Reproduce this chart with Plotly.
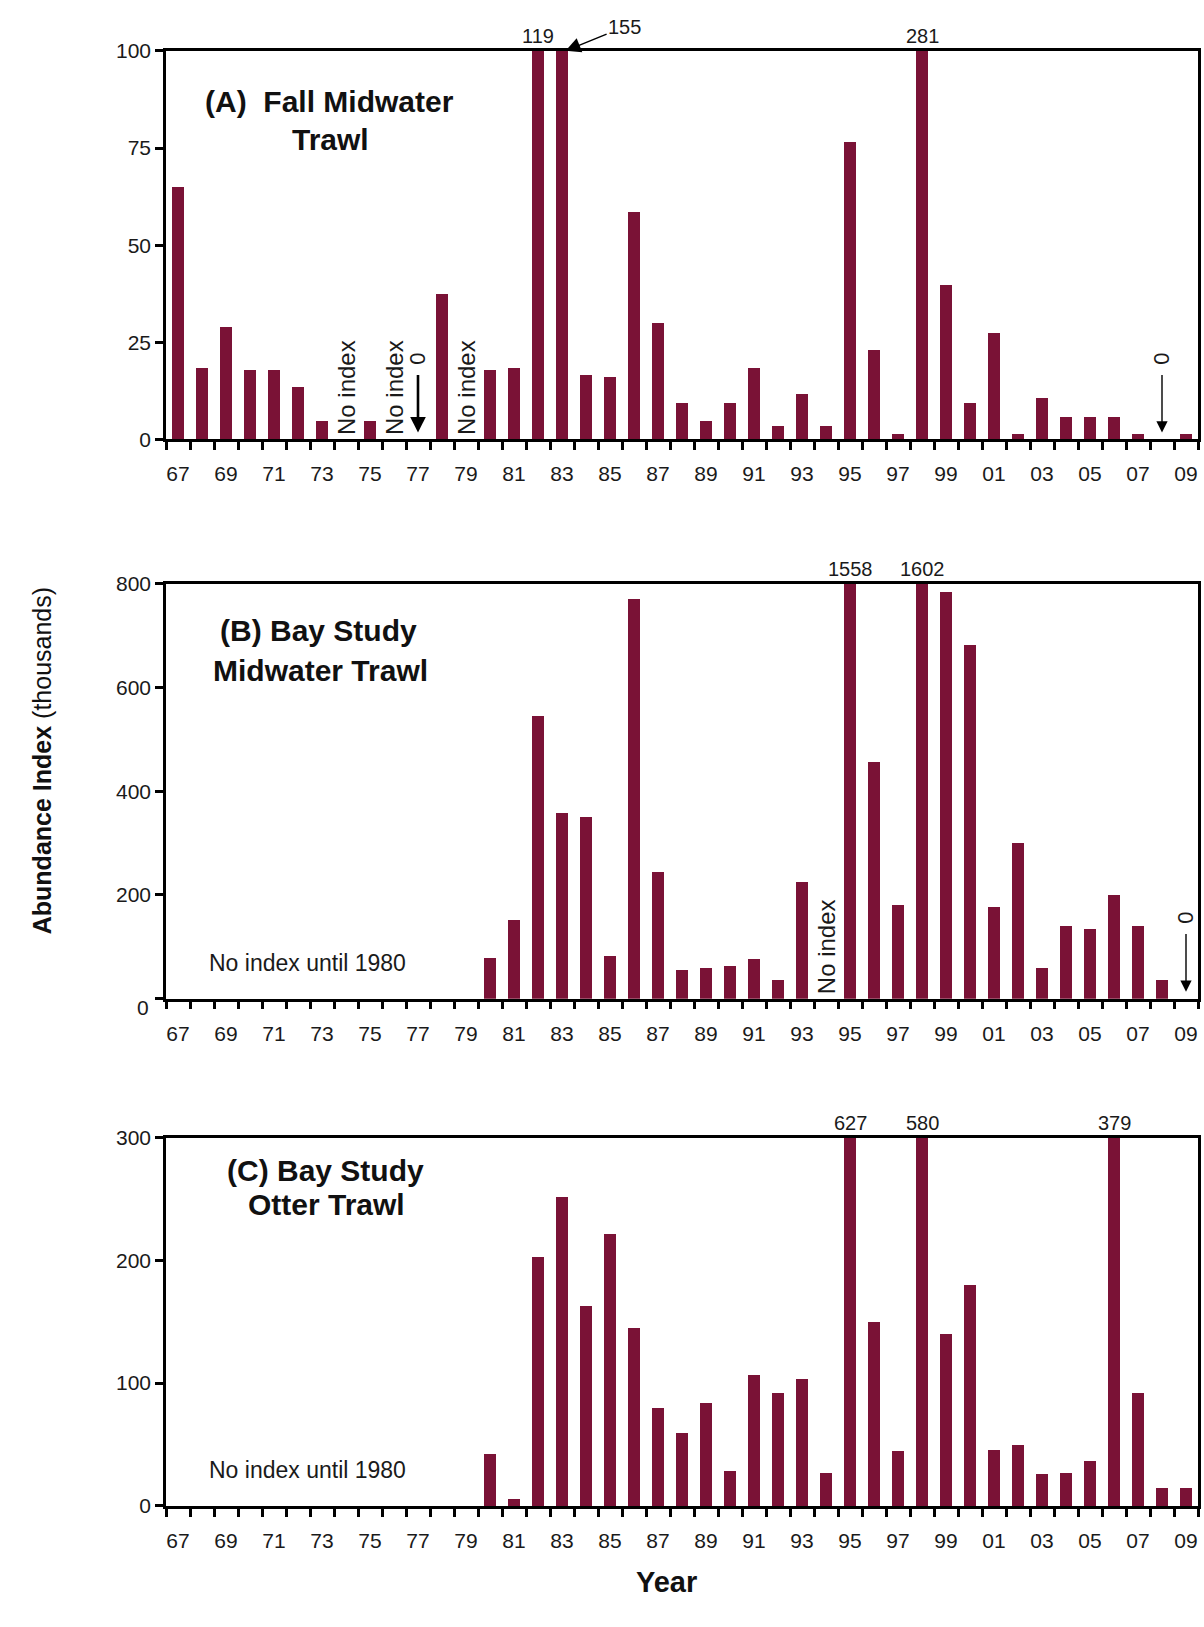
import plotly.graph_objects as go

# ---- data -----------------------------------------------------------------
years = list(range(1967, 2010))
tick_years = list(range(1967, 2010, 2))
tick_text = [f"{y % 100:02d}" for y in tick_years]

# Abundance index (thousands); None = no index for that year
fall_midwater = [65, 18.4, 28.9, 17.8, 17.8, 13.5, 4.8, None, 4.8, None,
                 0, 37.5, None, 17.8, 18.4, 119, 155, 16.7, 16.0, 58.6,
                 30.0, 9.5, 4.8, 9.5, 18.4, 3.6, 11.8, 3.6, 76.7, 23,
                 1.4, 281, 39.9, 9.5, 27.5, 1.4, 10.6, 5.8, 5.8, 5.8,
                 1.4, 0, 1.4]
bay_midwater = [None] * 13 + [79, 152, 545, 358, 350, 82, 772, 244, 55, 59,
                              63, 76, 37, 226, None, 1558, 456, 181, 1602, 785,
                              683, 178, 301, 59, 141, 134, 200, 141, 37, 0]
bay_otter = [None] * 13 + [43, 6, 203, 252, 163, 222, 145, 80, 60, 84,
                           29, 107, 92, 104, 27, 627, 150, 45, 580, 140,
                           180, 46, 50, 26, 27, 37, 379, 92, 15, 15]

panel_titles = [["(A)  Fall Midwater", "Trawl"],
                ["(B) Bay Study", "Midwater Trawl"],
                ["(C) Bay Study", "Otter Trawl"]]
y_maxes = [100, 800, 300]
y_ticks = [[0, 25, 50, 75, 100], [0, 200, 400, 600, 800], [0, 100, 200, 300]]
no_index_years = [[1974, 1976, 1979], [1994], []]
zero_years = [[1977, 2008], [2009], []]
no_index_note = "No index until 1980"

# ---- layout helpers ---------------------------------------------------------
W, H = 1204, 1627
BAR = "#7a1236"
INK = "#1a1a1a"
FONT = "Liberation Sans, Arial, sans-serif"


def px(x):
    return x / W


def py(y):
    return 1 - y / H


# panel pixel boxes (top, bottom)
boxes = [(39.4, 433.6), (580.0, 1000.8), (1141.7, 1515.3)]
x_left, x_right = 166, 1198
title_pos = [[(329, 91), (330, 129)],
             [(318, 627), (320, 668)],
             [(325, 1175), (327, 1210)]]
series = [fall_midwater, bay_midwater, bay_otter]

fig = go.Figure()
annotations = []

for i, vals in enumerate(series):
    n = "" if i == 0 else str(i + 1)
    xa, ya = "x" + n, "y" + n
    ymax = y_maxes[i]
    top, bot = boxes[i]
    ppu = (bot - top) / ymax  # pixels per data unit

    fig.add_trace(go.Bar(
        x=years, y=vals,
        width=0.52, marker=dict(color=BAR, line=dict(width=0)),
        xaxis=xa, yaxis=ya, showlegend=False, hoverinfo="x+y",
    ))

    fig.layout["xaxis" + n] = dict(
        domain=[px(x_left), px(x_right)], anchor=ya,
        range=[1966.5, 2009.5], showgrid=False, zeroline=False,
        tickvals=tick_years, ticktext=tick_text, ticks="",
        ticklabelstandoff=14,
        tickfont=dict(size=21, color=INK, family=FONT),
        showline=True, linecolor="black", linewidth=2.5, mirror=True,
        minor=dict(tickvals=[y - 0.5 for y in years] + [2009.5],
                   ticks="outside", ticklen=8, tickwidth=2.5,
                   tickcolor="black", showgrid=False),
    )
    # the middle panel writes its zero label a little lower, by hand
    ytext = [str(v) for v in y_ticks[i]]
    if i == 1:
        ytext[0] = ""
        annotations.append(dict(
            x=px(151), y=py(bot + 9), xref="paper", yref="paper", text="0",
            showarrow=False, xanchor="right", yanchor="middle",
            font=dict(size=21, color=INK, family=FONT)))
    fig.layout["yaxis" + n] = dict(
        domain=[py(bot), py(top)], anchor=xa,
        range=[0, ymax], showgrid=False, zeroline=False,
        tickvals=y_ticks[i], ticktext=ytext,
        ticks="outside", ticklen=8, tickwidth=2.5, tickcolor="black",
        tickfont=dict(size=21, color=INK, family=FONT),
        showline=True, linecolor="black", linewidth=2.5, mirror=True,
    )

    # panel titles
    for (tx, ty), txt in zip(title_pos[i], panel_titles[i]):
        annotations.append(dict(
            x=px(tx), y=py(ty), xref="paper", yref="paper",
            text=f"<b>{txt}</b>", showarrow=False,
            xanchor="center", yanchor="middle",
            font=dict(size=30, color="#111", family=FONT)))

    # values beyond the axis range are written above the frame
    for yr, v in zip(years, vals):
        if v is not None and v > ymax:
            if i == 0 and yr == 1983:
                annotations.append(dict(
                    x=yr + 0.15, y=ymax, xref=xa, yref=ya, text=str(v),
                    showarrow=True, arrowhead=2, arrowsize=2.0, arrowwidth=1.5,
                    arrowcolor="black", ax=59, ay=-24, standoff=0,
                    font=dict(size=20, color=INK, family=FONT)))
            else:
                annotations.append(dict(
                    x=yr, y=ymax, xref=xa, yref=ya, text=str(v),
                    showarrow=False, yanchor="bottom", yshift=2,
                    font=dict(size=20, color=INK, family=FONT)))

    # rotated "No index" markers
    for yr in no_index_years[i]:
        annotations.append(dict(
            x=yr, y=2.0 / ppu, xref=xa, yref=ya, text="No index",
            textangle=-90, showarrow=False, yanchor="bottom",
            font=dict(size=24, color=INK, family=FONT)))

    # zero-value arrows
    for yr in zero_years[i]:
        tip = 7 / ppu
        tail = 67 / ppu
        annotations.append(dict(
            x=yr, y=tip, xref=xa, yref=ya, ax=yr, ay=tail,
            axref=xa, ayref=ya, text="", showarrow=True,
            arrowhead=2, arrowsize=1.6 if yr != 1977 else 1.2,
            arrowwidth=2.6 if yr == 1977 else 1.4, arrowcolor="black"))
        annotations.append(dict(
            x=yr, y=82 / ppu, xref=xa, yref=ya, text="0",
            textangle=-90, showarrow=False, yanchor="middle",
            font=dict(size=22, color=INK, family=FONT)))

    # note for surveys that started in 1980
    if i > 0:
        annotations.append(dict(
            x=1968.2, y=36 / ppu, xref=xa, yref=ya, text=no_index_note,
            showarrow=False, xanchor="left", yanchor="middle",
            font=dict(size=23, color=INK, family=FONT)))

# shared axis titles
annotations.append(dict(
    x=px(26), y=py(760), xref="paper", yref="paper",
    text="<b>Abundance Index</b> (thousands)", textangle=-90,
    showarrow=False, font=dict(size=25, color="#111", family=FONT)))
annotations.append(dict(
    x=px(666), y=py(1611), xref="paper", yref="paper",
    text="<b>Year</b>", showarrow=False,
    font=dict(size=29, color="#111", family=FONT)))

fig.update_layout(
    width=W, height=H, margin=dict(l=0, r=0, t=0, b=0),
    paper_bgcolor="white", plot_bgcolor="white",
    bargap=0, annotations=annotations,
    font=dict(family=FONT),
)

fig.write_html("out.html")
